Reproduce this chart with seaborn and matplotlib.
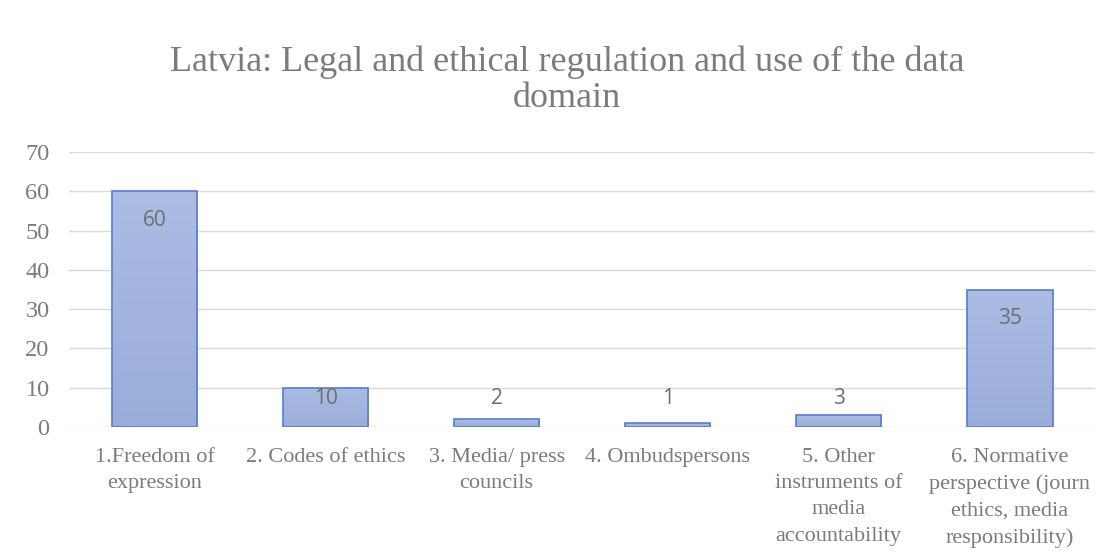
import numpy as np
import pandas as pd
import matplotlib
matplotlib.use("Agg")
import matplotlib.pyplot as plt
import seaborn as sns
from matplotlib.colors import LinearSegmentedColormap

# Chart data
categories = [
    "1.Freedom of\nexpression",
    "2. Codes of ethics",
    "3. Media/ press\ncouncils",
    "4. Ombudspersons",
    "5. Other\ninstruments of\nmedia\naccountability",
    "6. Normative\nperspective (journ\nethics, media\nresponsibility)",
]
values = [60, 10, 2, 1, 3, 35]
y_ticks = [0, 10, 20, 30, 40, 50, 60, 70]
title = "Latvia: Legal and ethical regulation and use of the data\ndomain"

sns.set_theme(style="white")
plt.rcParams["font.family"] = ["Liberation Serif", "DejaVu Serif"]

TEXT_GREY = "#7b7b7b"
GRID_GREY = "#d9d9d9"
BAR_TOP = "#abbde4"
BAR_BOTTOM = "#9aacd9"
BAR_EDGE = "#5a7cc9"

df = pd.DataFrame({"category": categories, "value": values})

fig = plt.figure(figsize=(11.12, 5.52), dpi=100)
ax = fig.add_axes([0.062, 0.2264, 0.923, 0.4982])

sns.barplot(data=df, x="category", y="value", ax=ax, width=0.5,
            color=BAR_TOP, edgecolor=BAR_EDGE, linewidth=1.2, saturation=1)

# vertical gradient fill clipped to each bar
cmap = LinearSegmentedColormap.from_list("bar", [BAR_BOTTOM, BAR_TOP])
grad = np.linspace(0, 1, 256).reshape(-1, 1)
for patch in ax.patches:
    x0, y0 = patch.get_x(), patch.get_y()
    w, h = patch.get_width(), patch.get_height()
    im = ax.imshow(grad, cmap=cmap, origin="lower", aspect="auto",
                   extent=(x0, x0 + w, y0, y0 + h), zorder=patch.get_zorder() - 0.1)
    im.set_clip_path(patch)
    patch.set_facecolor("none")
    patch.set_zorder(patch.get_zorder() + 0.2)
ax.set_xlim(-0.5, len(categories) - 0.5)
ax.set_ylim(0, 70)

# value labels
for i, v in enumerate(values):
    ax.text(i, max(v - 7.5, 7.2), str(v), ha="center", va="center",
            fontsize=15, color="#6e6e6e", family=["Open Sans", "DejaVu Sans"])

ax.set_yticks(y_ticks)
ax.yaxis.grid(True, color=GRID_GREY, linewidth=1.0)
ax.set_axisbelow(True)
for s in ax.spines.values():
    s.set_visible(False)
ax.tick_params(axis="both", length=0, colors=TEXT_GREY)
ax.tick_params(axis="y", labelsize=17.5, pad=14)
ax.tick_params(axis="x", labelsize=16, pad=15)
for lbl in ax.get_xticklabels():
    lbl.set_linespacing(1.52)
ax.set_xlabel("")
ax.set_ylabel("")

fig.text(0.51, 0.855, title, ha="center", va="center", fontsize=26,
         color=TEXT_GREY, linespacing=1.12)

fig.savefig("out.png", dpi=100, facecolor="white")
